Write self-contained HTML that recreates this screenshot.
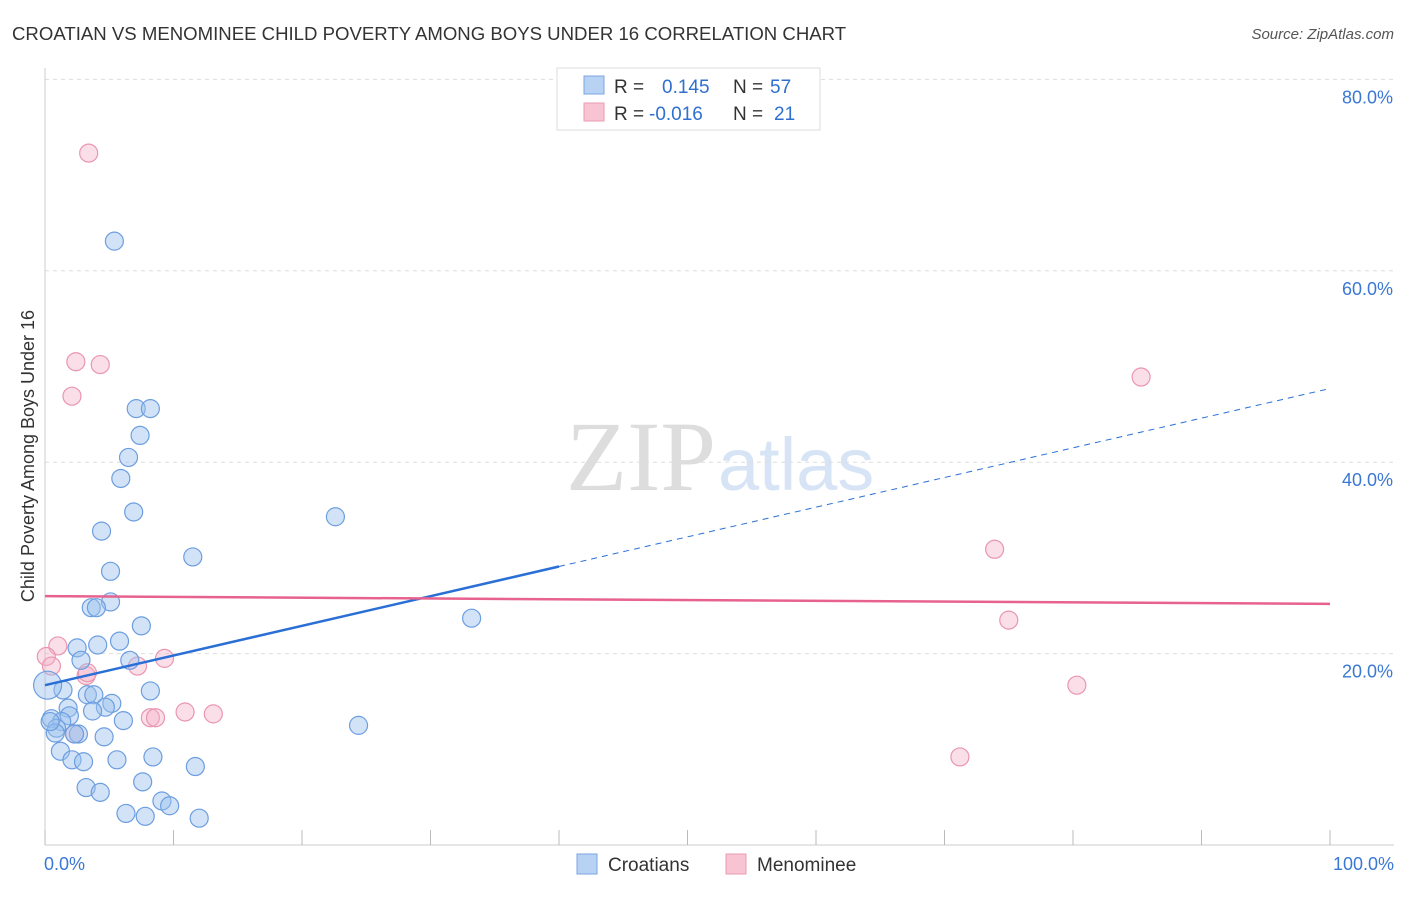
<!DOCTYPE html>
<html><head><meta charset="utf-8"><style>
body{margin:0;background:#fff;font-family:"Liberation Sans",sans-serif;}
</style></head><body>
<svg width="1406" height="892" xmlns="http://www.w3.org/2000/svg">
<text x="12" y="40" font-size="18.6" fill="#333">CROATIAN VS MENOMINEE CHILD POVERTY AMONG BOYS UNDER 16 CORRELATION CHART</text>
<text x="1394" y="39" font-size="15" fill="#555" font-style="italic" text-anchor="end">Source: ZipAtlas.com</text>
<text x="716" y="490" font-size="100" fill="#ddd" text-anchor="end" font-family="Liberation Serif">ZIP</text>
<text x="718" y="490" font-size="74" fill="#d6e4f5">atlas</text>
<g id="grid"></g>
<g id="axes"></g>
<g id="marks"></g>
<text transform="translate(34,456) rotate(-90)" font-size="18" fill="#333" text-anchor="middle">Child Poverty Among Boys Under 16</text>
<g>
<rect x="557" y="68" width="263" height="62" fill="#fff" stroke="#ddd"/>
<rect x="584" y="76" width="20" height="18" fill="#b8d2f4" stroke="#7aa6e0"/>
<rect x="584" y="103" width="20" height="18" fill="#f8c4d3" stroke="#ec9ab2"/>
<text x="614" y="93" font-size="19" fill="#333">R = <tspan fill="#2f6fd0" x="662">0.145</tspan><tspan fill="#333" x="733">N = </tspan><tspan fill="#2f6fd0" x="770">57</tspan></text>
<text x="614" y="120" font-size="19" fill="#333">R = <tspan fill="#2f6fd0" x="649">-0.016</tspan><tspan fill="#333" x="733">N = </tspan><tspan fill="#2f6fd0" x="774">21</tspan></text>
</g>
<g>
<rect x="577" y="854" width="20" height="20" fill="#b8d2f4" stroke="#7aa6e0"/>
<text x="608" y="871" font-size="19" fill="#333">Croatians</text>
<rect x="726" y="854" width="20" height="20" fill="#f8c4d3" stroke="#ec9ab2"/>
<text x="757" y="871" font-size="19" fill="#333">Menominee</text>
</g>
</svg>
<script>
const blueX=[5.4,7.1,8.2,7.4,6.5,5.9,6.9,4.4,22.6,11.5,5.1,5.1,3.6,4.0,7.5,5.8,4.1,2.5,2.8,6.6,1.4,8.2,3.3,3.8,5.2,4.7,3.7,1.8,1.9,6.1,0.5,1.3,0.9,0.8,2.6,2.3,4.6,24.4,8.4,5.6,1.2,2.1,3.0,11.7,3.2,7.6,4.3,9.1,9.7,6.3,7.8,12.0,33.2,0.2,0.4];
const blueY=[63.1,45.6,45.6,42.8,40.5,38.3,34.8,32.8,34.3,30.1,28.6,25.4,24.8,24.8,22.9,21.3,20.9,20.6,19.3,19.3,16.2,16.1,15.7,15.7,14.8,14.4,14.0,14.3,13.5,13.0,13.2,12.9,12.2,11.7,11.6,11.6,11.3,12.5,9.2,8.9,9.8,8.9,8.7,8.2,6.0,6.6,5.5,4.6,4.1,3.3,3.0,2.8,23.7,16.7,12.9];
const pinkX=[3.4,2.4,4.3,2.1,85.3,73.9,75.0,80.3,71.2,1.0,0.1,0.5,7.2,9.3,3.2,8.2,8.6,10.9,13.1,2.3,3.3];
const pinkY=[72.3,50.5,50.2,46.9,48.9,30.9,23.5,16.7,9.2,20.8,19.7,18.7,18.7,19.5,17.7,13.3,13.3,13.9,13.7,11.6,18.0];
const yTicks=[20,40,60,80];
const yTickLabels=["20.0%","40.0%","60.0%","80.0%"];
const xTicks=[0,10,20,30,40,50,60,70,80,90,100];
const blueFit={b0:16.7,b1:0.31};
const pinkFit={b0:26.0,b1:-0.008};
const NS="http://www.w3.org/2000/svg";
const sx=v=>45+v*12.85, sy=v=>845-v*9.57;
function mk(t,a,p){const e=document.createElementNS(NS,t);for(const k in a)e.setAttribute(k,a[k]);p.appendChild(e);return e;}
const grid=document.getElementById('grid'),axes=document.getElementById('axes'),marks=document.getElementById('marks');
yTicks.forEach((v,i)=>{
 const l=mk('line',{x1:45,x2:1394,y1:sy(v),y2:sy(v),stroke:'#ddd','stroke-dasharray':'4,4'},grid);
 
 
 const t=mk('text',{x:1393,y:sy(v)+24,'font-size':18,fill:'#3a78d4','text-anchor':'end'},axes);
 t.textContent=yTickLabels[i];
 
 
});
mk('line',{x1:45,x2:45,y1:68,y2:845,stroke:'#ccc'},axes);
mk('line',{x1:45,x2:1394,y1:845,y2:845,stroke:'#ccc'},axes);
xTicks.forEach(v=>{const l=mk('line',{x1:sx(v),x2:sx(v),y1:830,y2:845,stroke:'#bbb'},axes);
 
 });
let t0=mk('text',{x:44,y:870,'font-size':18,fill:'#3a78d4'},axes);t0.textContent='0.0%';


let t1=mk('text',{x:1394,y:870,'font-size':18,fill:'#3a78d4','text-anchor':'end'},axes);t1.textContent='100.0%';


function dot(x,y,c,s,name,r){const e=mk('circle',{cx:sx(x),cy:sy(y),r:r||9,fill:c,stroke:s,'stroke-width':1.2},marks);
 
 }
pinkX.forEach((x,i)=>dot(x,pinkY[i],'rgba(246,176,198,0.4)','#e996b0','menominee-point'));
blueX.forEach((x,i)=>dot(x,blueY[i],'rgba(156,192,238,0.45)','#6c9ee0','croatians-point',i==53?14:9));
let bl=mk('line',{x1:sx(0),y1:sy(blueFit.b0),x2:sx(40),y2:sy(blueFit.b0+40*blueFit.b1),stroke:'#2a6fd6','stroke-width':2.5},marks);


let bd=mk('line',{x1:sx(40),y1:sy(blueFit.b0+40*blueFit.b1),x2:sx(100),y2:sy(blueFit.b0+100*blueFit.b1),stroke:'#2a6fd6','stroke-width':1,'stroke-dasharray':'6,5'},marks);


let pl=mk('line',{x1:sx(0),y1:sy(pinkFit.b0),x2:sx(100),y2:sy(pinkFit.b0+100*pinkFit.b1),stroke:'#e8628e','stroke-width':2.5},marks);


</script>
</body></html>
